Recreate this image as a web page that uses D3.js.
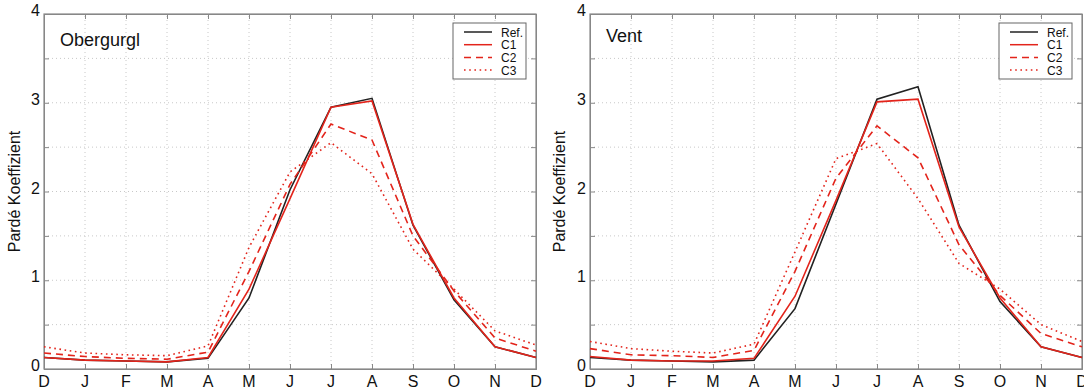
<!DOCTYPE html>
<html>
<head>
<meta charset="utf-8">
<script src="https://cdn.jsdelivr.net/npm/d3@7"></script>
<style>
  body { margin: 0; background: #fff; }
  text { font-family: "Liberation Sans", Arial, sans-serif; fill: #111; }
</style>
</head>
<body>
<script>
// months D..D
months = ['D', 'J', 'F', 'M', 'A', 'M', 'J', 'J', 'A', 'S', 'O', 'N', 'D'];
yTickLabels = [0, 1, 2, 3, 4];
seriesNames = ['Ref.', 'C1', 'C2', 'C3'];

obergurglRef = [0.13, 0.10, 0.09, 0.08, 0.12, 0.80, 2.02, 2.95, 3.05, 1.62, 0.78, 0.25, 0.13];
obergurglC1  = [0.13, 0.10, 0.09, 0.08, 0.13, 0.90, 1.92, 2.95, 3.02, 1.63, 0.80, 0.25, 0.13];
obergurglC2  = [0.18, 0.14, 0.12, 0.11, 0.19, 1.10, 2.08, 2.76, 2.58, 1.50, 0.88, 0.35, 0.20];
obergurglC3  = [0.25, 0.18, 0.16, 0.15, 0.26, 1.37, 2.22, 2.55, 2.20, 1.35, 0.90, 0.43, 0.27];

ventRef = [0.13, 0.10, 0.09, 0.08, 0.10, 0.68, 1.86, 3.04, 3.18, 1.62, 0.76, 0.25, 0.13];
ventC1  = [0.14, 0.10, 0.09, 0.09, 0.12, 0.82, 1.90, 3.01, 3.04, 1.60, 0.80, 0.25, 0.13];
ventC2  = [0.23, 0.16, 0.15, 0.13, 0.21, 1.10, 2.15, 2.74, 2.38, 1.40, 0.83, 0.40, 0.25];
ventC3  = [0.31, 0.23, 0.20, 0.18, 0.28, 1.32, 2.37, 2.54, 1.92, 1.19, 0.90, 0.50, 0.31];

styles = [
  { color: '#222', dash: null },
  { color: '#e3241b', dash: null },
  { color: '#e3241b', dash: '7,5' },
  { color: '#e3241b', dash: '1.6,3.6' }
];

svg = d3.select('body').append('svg').attr('width', 1084).attr('height', 389);

function panel(x0, title, series, titleY, labelX) {
  var w = 492, h = 355, top = 14;
  var x = d3.scaleLinear().domain([0, 12]).range([x0, x0 + w]);
  var y = d3.scaleLinear().domain([0, 4]).range([top + h, top]);
  var g = svg.append('g');

  // grid
  var gx = d3.range(1, 12), gy = d3.range(0.5, 4, 0.5);
  g.selectAll('.gx').data(gx).enter().append('line')
    .attr('x1', d => x(d)).attr('x2', d => x(d)).attr('y1', y(0)).attr('y2', y(4))
    .style('stroke', '#c8c8c8').style('stroke-dasharray', '1,3');
  g.selectAll('.gy').data(gy).enter().append('line')
    .attr('x1', x(0)).attr('x2', x(12)).attr('y1', d => y(d)).attr('y2', d => y(d))
    .style('stroke', '#c8c8c8').style('stroke-dasharray', '1,3');

  // ticks inside on all sides
  g.append('g').attr('transform', 'translate(0,' + y(0) + ')')
    .call(d3.axisTop(x).ticks(12).tickSize(5).tickFormat(''));
  g.append('g').attr('transform', 'translate(0,' + y(4) + ')')
    .call(d3.axisBottom(x).ticks(12).tickSize(5).tickFormat(''));
  g.append('g').attr('transform', 'translate(' + x(0) + ',0)')
    .call(d3.axisRight(y).tickValues(d3.range(0, 4.01, 0.5)).tickSize(5).tickFormat(''));
  g.append('g').attr('transform', 'translate(' + x(12) + ',0)')
    .call(d3.axisLeft(y).tickValues(d3.range(0, 4.01, 0.5)).tickSize(5).tickFormat(''));
  g.selectAll('.domain, .tick line').style('stroke', '#888');

  g.append('rect').attr('x', x(0)).attr('y', y(4)).attr('width', w).attr('height', h)
    .style('fill', 'none').style('stroke', '#888').style('stroke-width', 1.2);

  // labels
  g.selectAll('.xl').data(months).enter().append('text')
    .attr('x', (d, i) => x(i)).attr('y', y(0) + 18)
    .attr('text-anchor', 'middle').style('font-size', '16px').text(d => d);
  g.selectAll('.yl').data(yTickLabels).enter().append('text')
    .attr('x', x(0) - 4).attr('y', d => y(d) + 2)
    .attr('text-anchor', 'end').style('font-size', '16px').text(d => d);

  g.append('text').attr('transform', 'translate(' + labelX + ',' + y(2) + ') rotate(-90)')
    .attr('text-anchor', 'middle').style('font-size', '16px').text('Pardé Koeffizient');
  g.append('text').attr('x', x(0) + 16).attr('y', titleY)
    .style('font-size', '18px').text(title);

  // lines
  var line = d3.line().x((d, i) => x(i)).y(d => y(d));
  series.forEach(function (s, k) {
    g.append('path').datum(s).attr('d', line)
      .style('fill', 'none').style('stroke', styles[k].color).style('stroke-width', 1.6)
      .style('stroke-dasharray', styles[k].dash);
  });

  // legend
  var lx = x(12) - 83, ly = 23;
  g.append('rect').attr('x', lx).attr('y', ly).attr('width', 73).attr('height', 56)
    .style('fill', '#fff').style('stroke', '#666');
  seriesNames.forEach(function (n, k) {
    var yy = ly + 9 + k * 12.7;
    g.append('line').attr('x1', lx + 11).attr('x2', lx + 39).attr('y1', yy).attr('y2', yy)
      .style('stroke', styles[k].color).style('stroke-width', 1.5)
      .style('stroke-dasharray', styles[k].dash);
    g.append('text').attr('x', lx + 48).attr('y', yy + 4.5)
      .style('font-size', '12px').text(n);
  });
}

panel(44, 'Obergurgl', [obergurglRef, obergurglC1, obergurglC2, obergurglC3], 46, 20);
panel(590, 'Vent', [ventRef, ventC1, ventC2, ventC3], 42, 565);
</script>
</body>
</html>
